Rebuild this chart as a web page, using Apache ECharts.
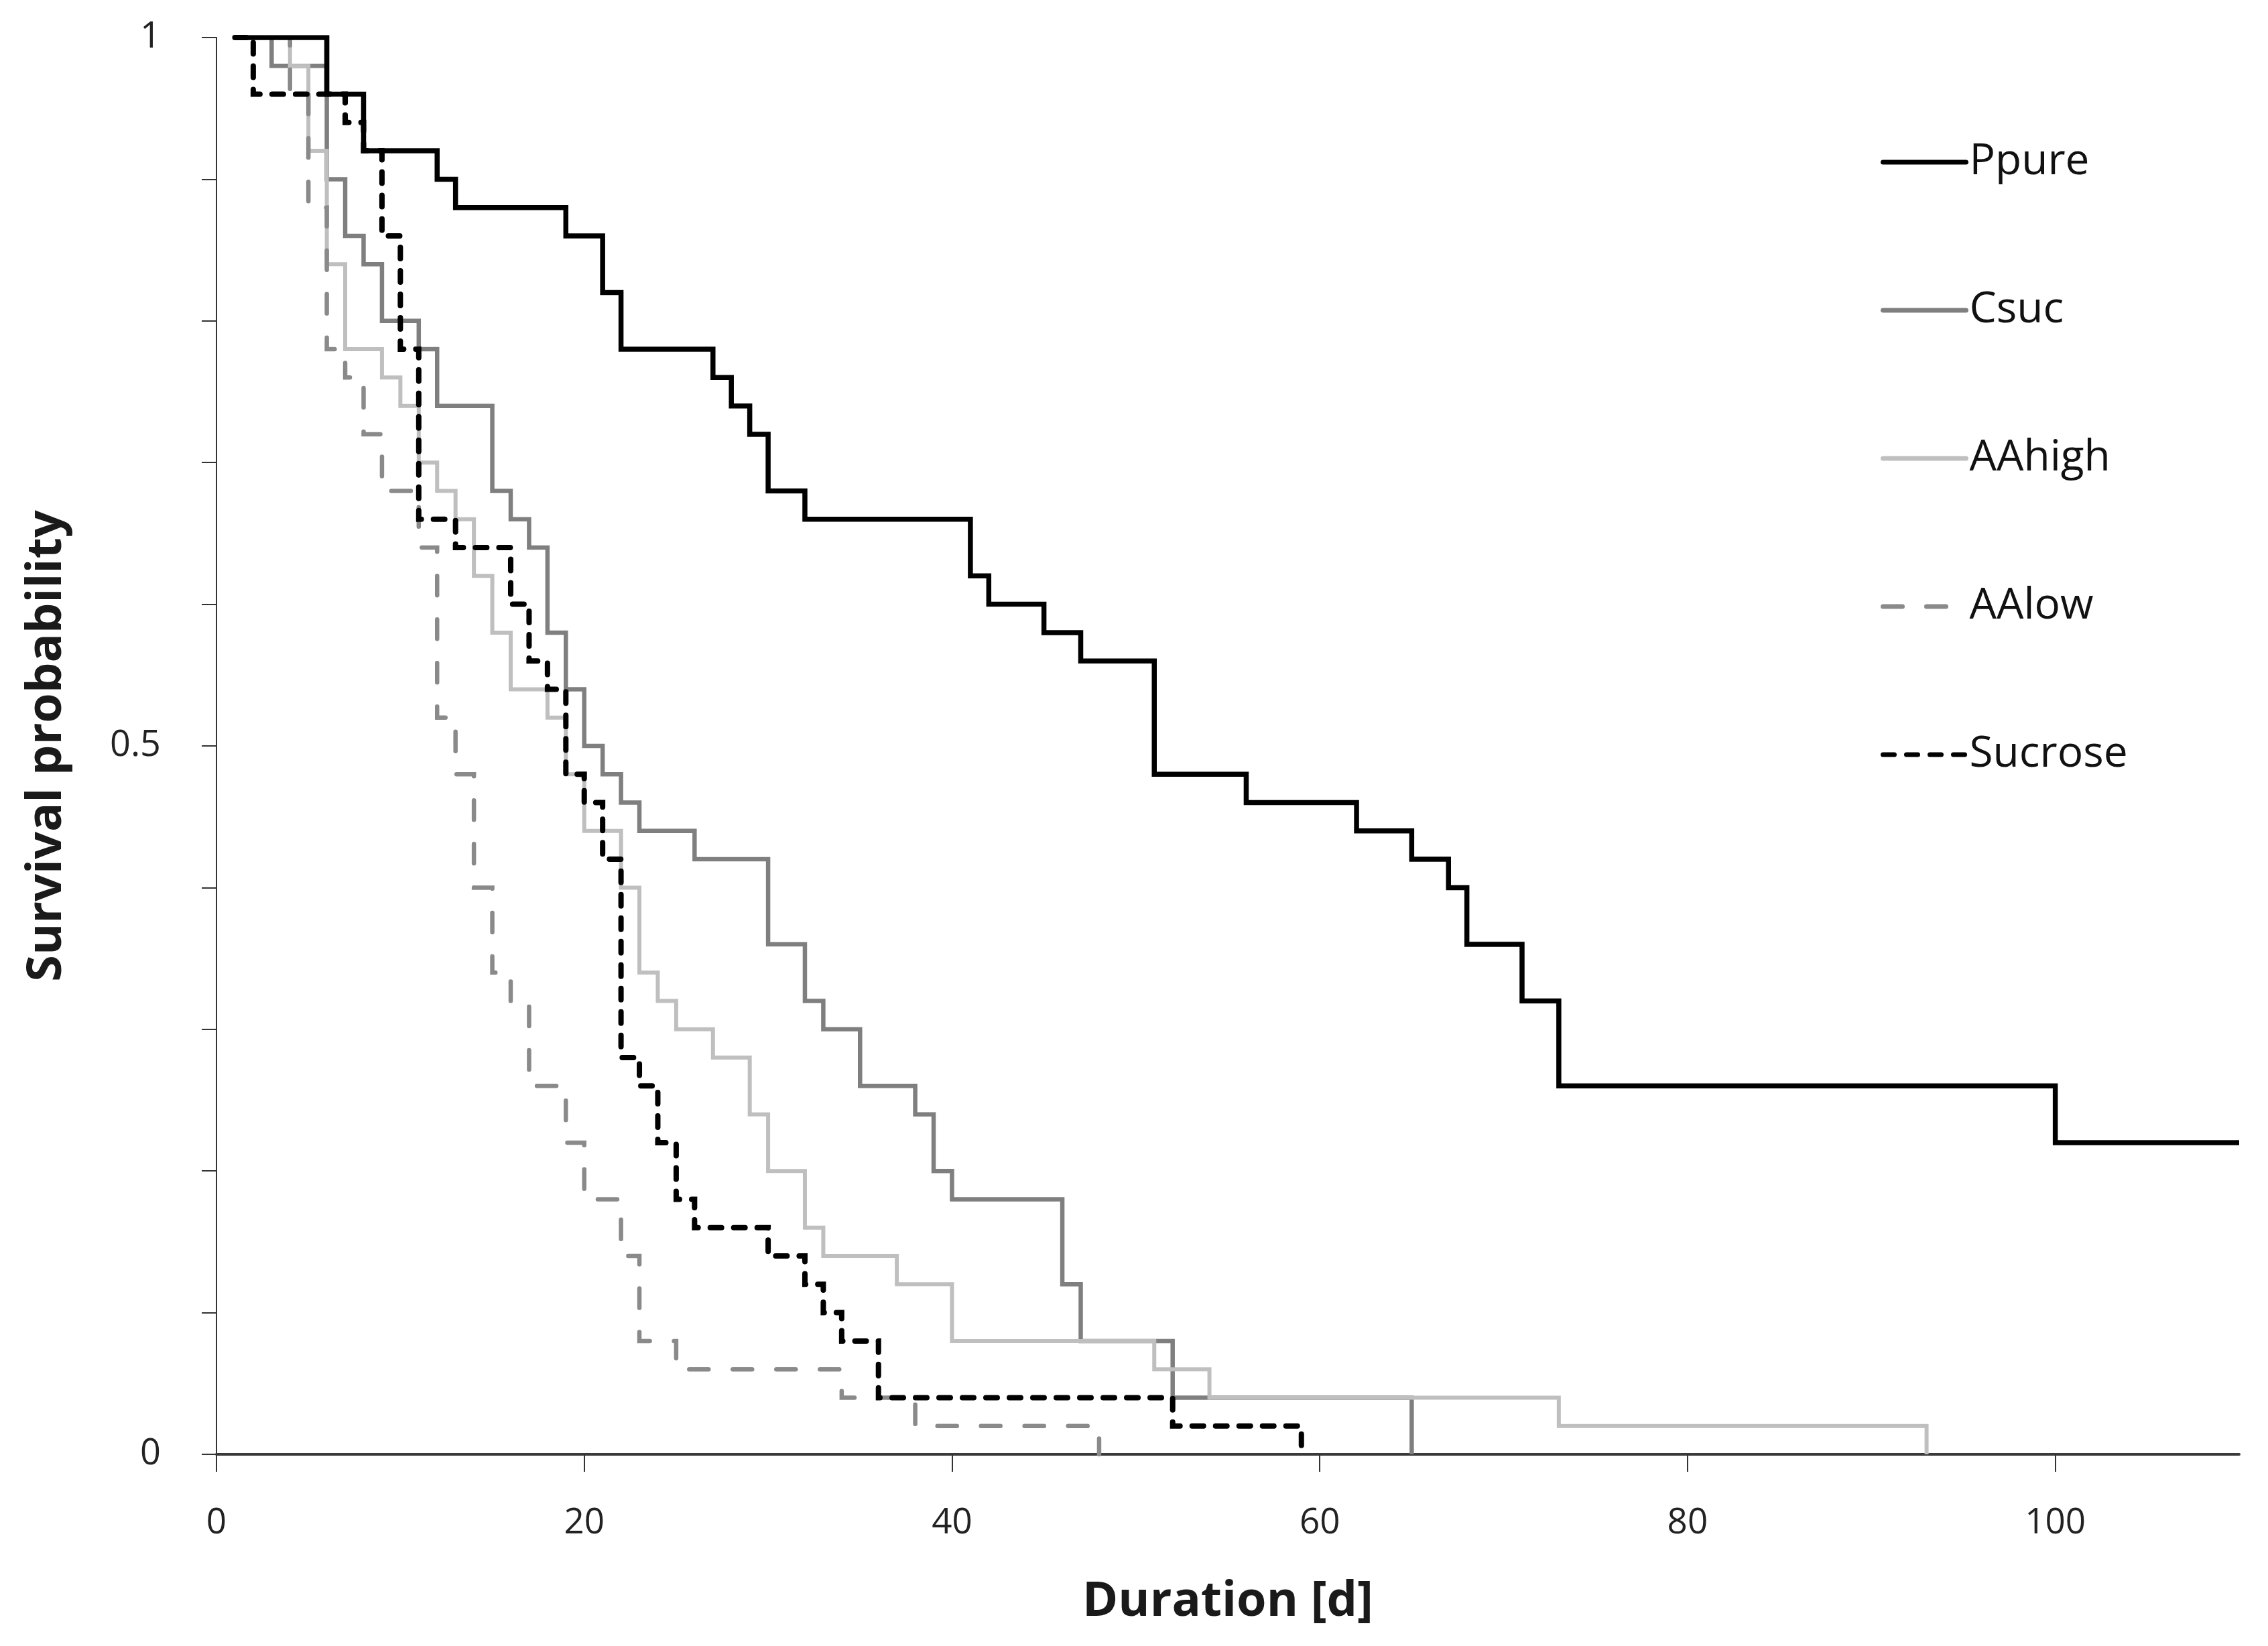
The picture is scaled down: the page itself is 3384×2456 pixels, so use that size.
<!DOCTYPE html>
<html>
<head>
<meta charset="utf-8">
<script src="https://cdn.jsdelivr.net/npm/echarts@6/dist/echarts.min.js"></script>
<style>
html,body{margin:0;padding:0;background:#fff;}
#chart{width:3384px;height:2456px;}
</style>
</head>
<body>
<div id="chart"></div>
<script>
// Kaplan-Meier style survival data (day, survival probability)
const ppureDays = [1,6,8,12,13,19,21,22,27,28,29,30,32,41,42,45,47,51,56,62,65,67,68,71,73,100,110];
const ppureSurv = [1,0.96,0.92,0.90,0.88,0.86,0.82,0.78,0.76,0.74,0.72,0.68,0.66,0.62,0.60,0.58,0.56,0.48,0.46,0.44,0.42,0.40,0.36,0.32,0.26,0.22,0.22];

const csucDays = [1,3,6,7,8,9,11,12,15,16,17,18,19,20,21,22,23,26,30,32,33,35,38,39,40,46,47,52,65];
const csucSurv = [1,0.98,0.90,0.86,0.84,0.80,0.78,0.74,0.68,0.66,0.64,0.58,0.54,0.50,0.48,0.46,0.44,0.42,0.36,0.32,0.30,0.26,0.24,0.20,0.18,0.12,0.08,0.04,0];

const aahighDays = [1,4,5,6,7,9,10,11,12,13,14,15,16,18,19,20,22,23,24,25,27,29,30,32,33,37,40,51,54,73,93];
const aahighSurv = [1,0.98,0.92,0.84,0.78,0.76,0.74,0.70,0.68,0.66,0.62,0.58,0.54,0.52,0.48,0.44,0.40,0.34,0.32,0.30,0.28,0.24,0.20,0.16,0.14,0.12,0.08,0.06,0.04,0.02,0];

const aalowDays = [1,4,5,6,7,8,9,11,12,13,14,15,16,17,19,20,22,23,25,34,38,48];
const aalowSurv = [1,0.96,0.88,0.78,0.76,0.72,0.68,0.64,0.52,0.48,0.40,0.34,0.32,0.26,0.22,0.18,0.14,0.08,0.06,0.04,0.02,0];

const sucroseDays = [1,2,7,8,9,10,11,13,16,17,18,19,20,21,22,23,24,25,26,30,32,33,34,36,52,59];
const sucroseSurv = [1,0.96,0.94,0.92,0.86,0.78,0.66,0.64,0.60,0.56,0.54,0.48,0.46,0.42,0.28,0.26,0.22,0.18,0.16,0.14,0.12,0.10,0.08,0.04,0.02,0];

const legendNames = ['Ppure','Csuc','AAhigh','AAlow','Sucrose'];
const xTickValues = [0,20,40,60,80,100];
const yLabelValues = [0,0.5,1];

function zip(xs, ys){ return xs.map((x,i)=>[x, ys[i]]); }

const FONT = 'Open Sans';
const chart = echarts.init(document.getElementById('chart'), null, {renderer:'canvas'});

function stepSeries(name, data, color, width, dash, z){
  return {
    name: name, type: 'line', step: 'end', data: data,
    symbol: 'none', showSymbol: false, silent: true, z: z,
    lineStyle: {color: color, width: width, type: dash || 'solid', cap: dash ? 'round' : 'butt', join: 'miter'},
    itemStyle: {color: color}
  };
}

chart.setOption({
  animation: false,
  backgroundColor: '#ffffff',
  grid: {left: 323, right: 43, top: 56, bottom: 286, containLabel: false},
  legend: {
    data: legendNames,
    orient: 'vertical',
    left: 2801, top: 205,
    itemWidth: 124, itemHeight: 40, itemGap: 157,
    itemStyle: {opacity: 0, borderWidth: 0},
    lineStyle: {width: 7, cap: 'round'},
    textStyle: {fontFamily: FONT, fontSize: 64, color: '#111'},
    selectedMode: false
  },
  xAxis: {
    type: 'value', min: 0, max: 110, interval: 20,
    name: 'Duration [d]', nameLocation: 'middle', nameGap: 184,
    nameTextStyle: {fontFamily: FONT, fontSize: 72, fontWeight: 'bold', color: '#1a1a1a'},
    axisLine: {show: true, lineStyle: {color: '#3a3a3a', width: 4}},
    axisTick: {show: true, inside: false, length: 26, lineStyle: {color: '#333', width: 2}, customValues: xTickValues},
    axisLabel: {fontFamily: FONT, fontSize: 53, color: '#222', margin: 76, customValues: xTickValues},
    splitLine: {show: false}
  },
  yAxis: {
    type: 'value', min: 0, max: 1, interval: 0.1,
    name: 'Survival probability', nameLocation: 'middle', nameGap: 217, nameRotate: 90,
    nameTextStyle: {fontFamily: FONT, fontSize: 72, fontWeight: 'bold', color: '#1a1a1a'},
    axisLine: {show: true, lineStyle: {color: '#333', width: 2}},
    axisTick: {show: true, inside: false, length: 22, lineStyle: {color: '#333', width: 2}},
    axisLabel: {fontFamily: FONT, fontSize: 54, color: '#222', margin: 83, customValues: yLabelValues,
      formatter: function(v){ return String(Math.round(v*10)/10); }},
    splitLine: {show: false}
  },
  series: [
    stepSeries('Csuc', zip(csucDays, csucSurv), '#7f7f7f', 6.5, null, 2),
    stepSeries('AAhigh', zip(aahighDays, aahighSurv), '#bfbfbf', 6, null, 3),
    stepSeries('AAlow', zip(aalowDays, aalowSurv), '#8a8a8a', 6.5, [29, 36], 4),
    stepSeries('Sucrose', zip(sucroseDays, sucroseSurv), '#000000', 8, [17, 18], 5),
    stepSeries('Ppure', zip(ppureDays, ppureSurv), '#000000', 7.5, null, 6)
  ]
});
</script>
</body>
</html>
